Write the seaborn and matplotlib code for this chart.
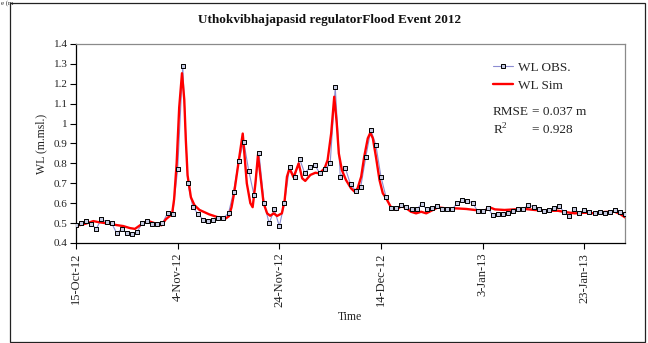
import numpy as np
import pandas as pd
import matplotlib
matplotlib.use("Agg")
import matplotlib.pyplot as plt
from matplotlib.lines import Line2D
from matplotlib.patches import Rectangle
import matplotlib.ticker as mticker
import seaborn as sns

# Water level at the regulator, daily observations from 15 Oct 2012
start_date = "2012-10-15"
obs_wl = [
    0.490, 0.502, 0.509, 0.495, 0.471, 0.522, 0.504, 0.500, 0.450, 0.469,
    0.450, 0.446, 0.455, 0.499, 0.512, 0.497, 0.495, 0.500, 0.549, 0.544,
    0.770, 1.290, 0.700, 0.579, 0.547, 0.517, 0.510, 0.516, 0.526, 0.527,
    0.549, 0.658, 0.810, 0.910, 0.760, 0.643, 0.851, 0.600, 0.499, 0.569,
    0.485, 0.600, 0.780, 0.732, 0.822, 0.750, 0.780, 0.790, 0.750, 0.770,
    0.800, 1.182, 0.732, 0.775, 0.695, 0.663, 0.680, 0.831, 0.968, 0.891,
    0.732, 0.630, 0.574, 0.574, 0.592, 0.581, 0.569, 0.569, 0.596, 0.569,
    0.576, 0.587, 0.569, 0.569, 0.569, 0.601, 0.614, 0.610, 0.603, 0.561,
    0.561, 0.576, 0.539, 0.544, 0.544, 0.552, 0.561, 0.569, 0.571, 0.591,
    0.582, 0.571, 0.562, 0.564, 0.574, 0.587, 0.556, 0.537, 0.571, 0.551,
    0.566, 0.557, 0.551, 0.556, 0.551, 0.557, 0.564, 0.557, 0.544,
]

# Simulated water level: output times (days after start) and values
sim_day = [
    0.0, 0.8, 2.0, 3.4, 4.4, 6.0, 8.0, 9.3, 10.6, 11.6,
    12.6, 13.6, 14.2, 15.5, 16.8, 17.7, 18.9, 19.3, 19.8, 20.3,
    20.85, 21.3, 21.6, 21.95, 22.6, 23.3, 24.3, 26.2, 28.2, 29.5,
    30.1, 30.6, 31.1, 32.0, 32.8, 33.6, 34.3, 34.75, 35.3, 35.8,
    36.45, 36.9, 37.6, 38.2, 38.9, 39.55, 40.5, 41.05, 41.5, 42.0,
    42.8, 43.8, 44.5, 45.1, 46.1, 47.1, 47.9, 48.9, 49.5, 50.2,
    50.8, 51.3, 51.7, 52.3, 53.1, 54.1, 54.8, 55.4, 56.1, 56.7,
    57.4, 57.9, 58.4, 59.05, 59.7, 60.35, 61.0, 62.0, 63.0, 64.0,
    65.0, 65.9, 66.9, 67.9, 68.9, 70.2, 71.2, 72.8, 74.8, 76.8,
    78.4, 80.4, 81.4, 82.4, 84.3, 86.3, 88.3, 90.2, 92.9, 94.8,
    96.1, 98.1, 100.1, 102.1, 104.0, 106.0, 107.0, 108.0,
]
sim_wl = [
    0.490, 0.490, 0.498, 0.510, 0.505, 0.499, 0.490, 0.485, 0.475, 0.471,
    0.489, 0.505, 0.511, 0.499, 0.489, 0.520, 0.545, 0.620, 0.800, 1.080,
    1.253, 1.120, 0.920, 0.740, 0.630, 0.590, 0.566, 0.544, 0.527, 0.524,
    0.535, 0.580, 0.650, 0.810, 0.950, 0.700, 0.600, 0.580, 0.700, 0.843,
    0.700, 0.600, 0.549, 0.537, 0.549, 0.536, 0.549, 0.616, 0.733, 0.775,
    0.730, 0.800, 0.725, 0.712, 0.742, 0.753, 0.750, 0.775, 0.817, 0.951,
    1.135, 1.000, 0.850, 0.767, 0.717, 0.675, 0.658, 0.675, 0.733, 0.834,
    0.926, 0.954, 0.926, 0.826, 0.717, 0.650, 0.625, 0.578, 0.566, 0.586,
    0.574, 0.557, 0.549, 0.557, 0.549, 0.566, 0.579, 0.574, 0.574, 0.571,
    0.566, 0.562, 0.579, 0.569, 0.566, 0.569, 0.571, 0.566, 0.562, 0.562,
    0.556, 0.549, 0.552, 0.549, 0.556, 0.557, 0.546, 0.529,
]

tick_dates = ["2012-10-15", "2012-11-04", "2012-11-24",
              "2012-12-14", "2013-01-03", "2013-01-23"]
tick_labels = ["15-Oct-12", "4-Nov-12", "24-Nov-12",
               "14-Dec-12", "3-Jan-13", "23-Jan-13"]
y_ticks = [0.4, 0.5, 0.6, 0.7, 0.8, 0.9, 1.0, 1.1, 1.2, 1.3, 1.4]

title = "Uthokvibhajapasid regulatorFlood Event 2012"
rmse_text = "= 0.037 m"
r2_text = "= 0.928"

t0 = pd.Timestamp(start_date)
obs = pd.DataFrame({"time": pd.date_range(t0, periods=len(obs_wl), freq="D"),
                    "wl": obs_wl})
sim = pd.DataFrame({"time": t0 + pd.to_timedelta(sim_day, unit="D"),
                    "wl": sim_wl})

sns.set_theme(style="ticks")
plt.rcParams["font.family"] = ["Liberation Serif", "DejaVu Serif"]
plt.rcParams["mathtext.fontset"] = "custom"
plt.rcParams["mathtext.rm"] = "Liberation Serif"

obs_line = "#8c8cd2"
obs_face = "#c6cbe2"

fig = plt.figure(figsize=(6.48, 3.43), dpi=100)
ax = fig.add_axes([76 / 648, 1 - 243 / 343, 549 / 648, 199 / 343])

sns.lineplot(data=obs, x="time", y="wl", ax=ax, color=obs_line, lw=0.8,
             zorder=2)
sns.lineplot(data=sim, x="time", y="wl", ax=ax, color="red", lw=1.7,
             zorder=3, solid_joinstyle="round")
sns.scatterplot(data=obs, x="time", y="wl", ax=ax, marker="s", s=12,
                color=obs_face, edgecolor="black", linewidth=0.7, zorder=4)

ax.set_xlim(t0, t0 + pd.Timedelta(days=108))
ax.set_ylim(0.4, 1.4)
ax.set_xticks(pd.to_datetime(tick_dates))
ax.set_xticklabels(tick_labels, rotation=90, fontsize=9)
ax.set_yticks(y_ticks)
ax.yaxis.set_major_formatter(mticker.FuncFormatter(lambda v, p: f"{v:g}"))
ax.tick_params(axis="y", labelsize=8, length=4, width=0.8, color="black",
               pad=2, labelcolor="#222222")
ax.tick_params(axis="x", length=4, width=0.8, color="black", pad=3,
               labelcolor="#222222")
ax.tick_params(right=False, top=False)

for side in ("left", "bottom"):
    ax.spines[side].set_color("black")
    ax.spines[side].set_linewidth(0.9)
for side in ("top", "right"):
    ax.spines[side].set_visible(True)
    ax.spines[side].set_color("#8a8a8a")
    ax.spines[side].set_linewidth(0.9)

ax.set_ylabel("WL (m.msl.)", fontsize=8.5, color="#222222")
ax.yaxis.set_label_coords(-0.052, 0.5)
ax.set_xlabel("Time", fontsize=8.5, color="#222222", va="center")
ax.xaxis.set_label_coords(0.499, -0.372)

handles = [
    Line2D([], [], color=obs_line, lw=0.8, marker="s", ms=3.4,
           mfc=obs_face, mec="black", mew=0.7),
    Line2D([], [], color="red", lw=1.7),
]
ax.legend(handles, ["WL OBS.", "WL Sim"], loc="upper left",
          bbox_to_anchor=(0.7596, 0.912), frameon=False, fontsize=9.5,
          handlelength=1.5, handletextpad=0.4, borderpad=0,
          borderaxespad=0, labelspacing=0.45)

ax.text(0.7596, 0.658, "RMSE", transform=ax.transAxes, fontsize=9.5,
        va="center", ha="left", color="#222222")
ax.text(0.8306, 0.658, rmse_text, transform=ax.transAxes, fontsize=9.5,
        va="center", ha="left", color="#222222")
ax.text(0.7596, 0.568, "R$^{2}$", transform=ax.transAxes, fontsize=9.5,
        va="center", ha="left", color="#222222")
ax.text(0.8306, 0.568, r2_text, transform=ax.transAxes, fontsize=9.5,
        va="center", ha="left", color="#222222")

fig.text(0.509, 0.942, title, ha="center", va="center", fontsize=9.5,
         fontweight="bold", color="#111111")

# caption fragment above the chart frame
fig.text(0.002, 1.0, "e (m", ha="left", va="top", fontsize=5,
         color="#222222")

fig.add_artist(Rectangle((10 / 648, 1 / 343), 635 / 648, 339 / 343,
                         transform=fig.transFigure, fill=False,
                         ec="#222222", lw=0.9))

fig.savefig("out.png", dpi=100)
